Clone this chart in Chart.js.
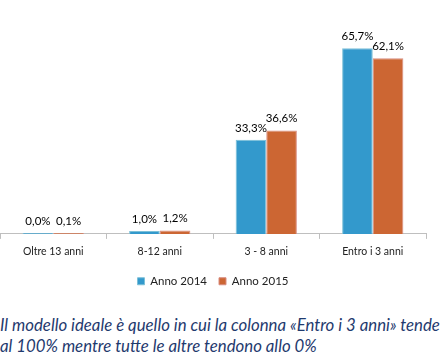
<!DOCTYPE html>
<html>
<head>
<meta charset="utf-8">
<script src="https://cdn.jsdelivr.net/npm/chart.js@4/dist/chart.umd.min.js"></script>
<style>
html,body{margin:0;padding:0;background:#fff;width:444px;height:357px;overflow:hidden;}
#wrap{position:absolute;left:0;top:0;width:444px;height:297px;}
#cap{position:absolute;left:0;top:314px;width:470px;font-family:Lato,"Open Sans",sans-serif;font-style:italic;font-size:16.8px;line-height:21px;color:#1f3a6e;white-space:nowrap;}
</style>
</head>
<body>
<div id="wrap"><canvas id="c" width="444" height="297"></canvas></div>
<div id="cap">Il modello ideale è quello in cui la colonna «Entro i 3 anni» tende<br>al 100% mentre tutte le altre tendono allo 0%</div>
<script>
const categories = ["Oltre 13 anni", "8-12 anni", "3 - 8 anni", "Entro i 3 anni"];
const anno2014 = [0.0, 1.0, 33.3, 65.7];
const anno2015 = [0.1, 1.2, 36.6, 62.1];
const seriesNames = ["Anno 2014", "Anno 2015"];

const labelPlugin = {
  id: 'valueLabels',
  afterDatasetsDraw(chart) {
    const ctx = chart.ctx;
    ctx.save();
    ctx.font = '11.5px Lato, "Open Sans", sans-serif';
    ctx.fillStyle = '#000';
    ctx.textAlign = 'center';
    ctx.textBaseline = 'bottom';
    chart.data.datasets.forEach((ds, di) => {
      const meta = chart.getDatasetMeta(di);
      meta.data.forEach((bar, i) => {
        const v = ds.data[i];
        const txt = v.toFixed(1).replace('.', ',') + '%';
        ctx.fillText(txt, bar.x, Math.min(bar.y, chart.scales.y.getPixelForValue(0) - 1) - 6);
      });
    });
    ctx.restore();
  }
};

new Chart(document.getElementById('c'), {
  type: 'bar',
  data: {
    labels: categories,
    datasets: [
      { label: seriesNames[0], data: anno2014, backgroundColor: '#3399cc', borderColor: '#7cc0d8', borderWidth: 1, borderSkipped: 'bottom', minBarLength: 1 },
      { label: seriesNames[1], data: anno2015, backgroundColor: '#cc6633', borderColor: '#d98c80', borderWidth: 1, borderSkipped: 'bottom', minBarLength: 1 }
    ]
  },
  options: {
    responsive: false,
    animation: false,
    devicePixelRatio: 1,
    layout: { padding: { top: 36, right: 18, left: 0, bottom: 0 } },
    datasets: { bar: { barPercentage: 1.0, categoryPercentage: 0.575 } },
    scales: {
      x: {
        offset: true,
        grid: { display: true, drawOnChartArea: false, offset: true, tickLength: 5, color: '#bfbfbf' },
        border: { display: true, color: '#bfbfbf' },
        ticks: { color: '#222', font: { family: 'Lato, "Open Sans", sans-serif', size: 10.5 }, padding: 6, maxRotation: 0 }
      },
      y: { display: false, min: 0, max: 70 }
    },
    plugins: {
      legend: {
        position: 'bottom',
        labels: { boxWidth: 7, boxHeight: 7, color: '#222', font: { family: 'Lato, "Open Sans", sans-serif', size: 11.5 }, padding: 12 }
      },
      tooltip: { enabled: false }
    }
  },
  plugins: [labelPlugin]
});
</script>
</body>
</html>
